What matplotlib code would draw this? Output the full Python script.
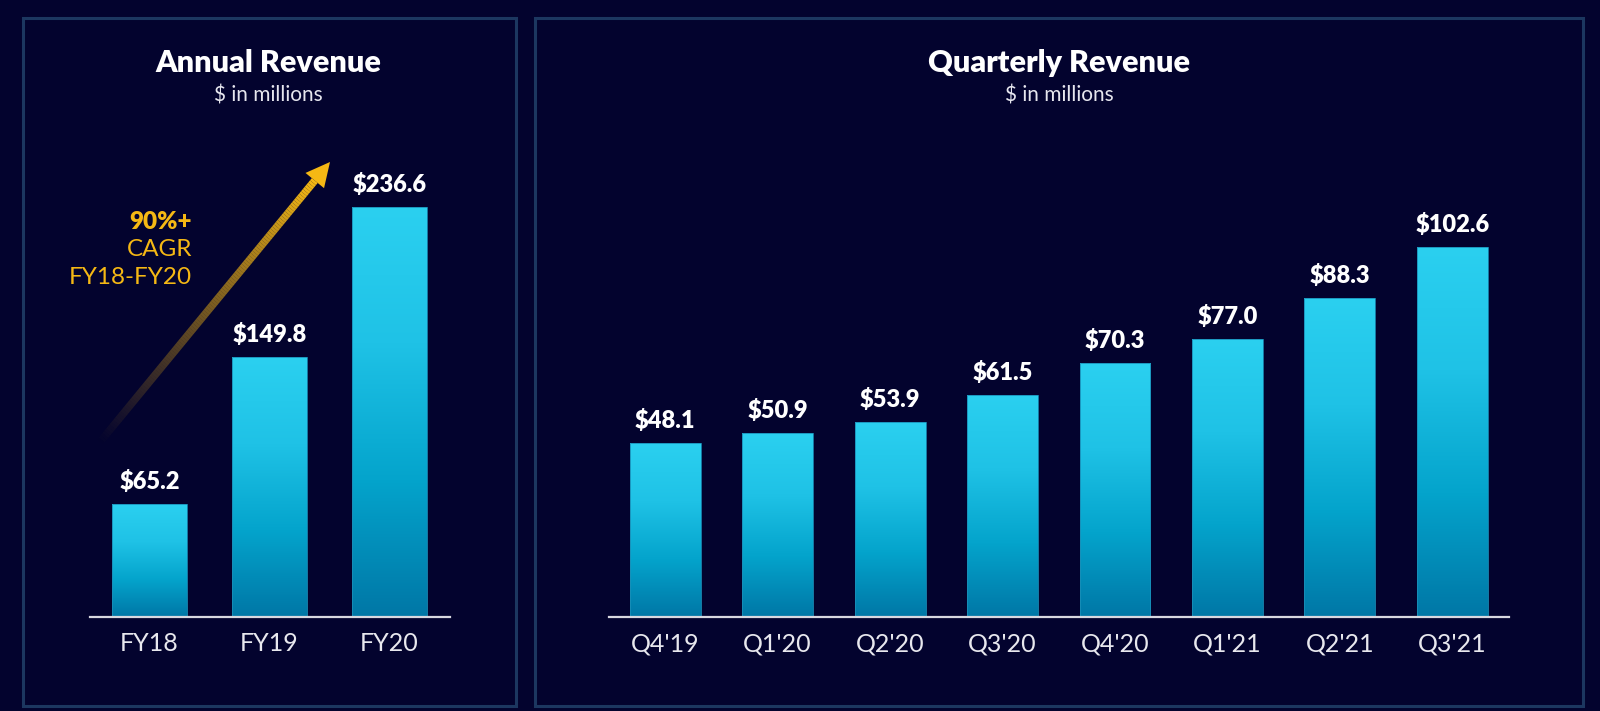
import numpy as np
import matplotlib.pyplot as plt
from matplotlib.colors import LinearSegmentedColormap, to_rgba
from matplotlib.patches import Rectangle, Polygon
from matplotlib.collections import LineCollection

annual_labels = ['FY18', 'FY19', 'FY20']
annual_values = [65.2, 149.8, 236.6]
quarter_labels = ["Q4'19", "Q1'20", "Q2'20", "Q3'20", "Q4'20", "Q1'21", "Q2'21", "Q3'21"]
quarter_values = [48.1, 50.9, 53.9, 61.5, 70.3, 77.0, 88.3, 102.6]
cagr_lines = ['90%+', 'CAGR', 'FY18-FY20']

BG = '#03032e'
BORDER = '#1c3760'
YELLOW = '#f5b814'
AXIS = '#d8d8e0'
bar_cmap = LinearSegmentedColormap.from_list('bar', ['#0077a6', '#04a4cc', '#1fc2e6', '#2bd0f0'])

plt.rcParams['font.family'] = ['Lato', 'DejaVu Sans']

W, H = 1600, 711
fig = plt.figure(figsize=(16, 7.11), dpi=100, facecolor=BG)

# overlay in pixel coords for panels, titles and the arrow
bg = fig.add_axes([0, 0, 1, 1], zorder=0)
bg.set_xlim(0, W)
bg.set_ylim(H, 0)
bg.axis('off')

for x0, x1 in [(23, 516), (535, 1583)]:
    bg.add_patch(Rectangle((x0, 18), x1 - x0, 706 - 18, fill=False, edgecolor=BORDER, linewidth=2.2))

for cx, title in [(268, 'Annual Revenue'), (1059, 'Quarterly Revenue')]:
    bg.text(cx, 63, title, ha='center', va='center', color='white', fontsize=22, fontweight='heavy')
    bg.text(cx, 95, '$ in millions', ha='center', va='center', color='#e6e6ee', fontsize=15)

# gradient arrow
tail = np.array([100.0, 442.0])
tip = np.array([330.0, 162.0])
u = (tip - tail) / np.linalg.norm(tip - tail)
n = np.array([-u[1], u[0]])
head_len, head_w = 24, 12
base = tip - head_len * u
t = np.linspace(0, 1, 120)
pts = tail + np.outer(t, base - tail)
segs = np.stack([pts[:-1], pts[1:]], axis=1)
cols = [to_rgba(YELLOW, a) for a in t[1:] ** 1.1]
bg.add_collection(LineCollection(segs, colors=cols, linewidths=5.5, capstyle='butt'))
bg.add_patch(Polygon([tip, base + head_w * n, base - head_w * n], closed=True, color=YELLOW, lw=0))

for i, (txt, y) in enumerate(zip(cagr_lines, [222, 249, 277])):
    bg.text(192, y, txt, ha='right', va='center', color=YELLOW, fontsize=17.5,
            fontweight='heavy' if i == 0 else 'normal')


def px_axes(x0, x1, y_base, height):
    return fig.add_axes([x0 / W, (H - y_base) / H, (x1 - x0) / W, height / H], zorder=1)


def gradient_bars(ax, labels, values, width):
    bars = ax.bar(range(len(values)), values, width=width, color='none',
                  edgecolor='#1a8fb8', linewidth=0.6, zorder=2)
    grad = np.linspace(0, 1, 256).reshape(-1, 1)
    for b in bars:
        x0 = b.get_x()
        im = ax.imshow(grad, extent=[x0, x0 + b.get_width(), 0, b.get_height()],
                       origin='lower', aspect='auto', cmap=bar_cmap, zorder=1)
        im.set_clip_path(b)
    for i, v in enumerate(values):
        ax.annotate(f'${v:.1f}', (i, v), xytext=(0, 8), textcoords='offset points',
                    ha='center', va='bottom', color='white', fontsize=17, fontweight='heavy')
    ax.set_xlim(-0.5, len(values) - 0.5)
    ax.set_facecolor('none')
    ax.set_xticks(range(len(values)), labels)
    ax.set_yticks([])
    ax.tick_params(axis='x', length=0, pad=11, labelsize=18, labelcolor='#e8e8ee')
    for s in ['left', 'right', 'top']:
        ax.spines[s].set_visible(False)
    ax.spines['bottom'].set_color(AXIS)
    ax.spines['bottom'].set_linewidth(1.6)


ax1 = px_axes(89.5, 449.5, 617, 450)
gradient_bars(ax1, annual_labels, annual_values, 0.625)
ax1.set_ylim(0, 450 / 1.733)

ax2 = px_axes(609, 1508.5, 617, 450)
gradient_bars(ax2, quarter_labels, quarter_values, 0.63)
ax2.set_ylim(0, 450 / 3.61)

fig.savefig('out.png', dpi=100, facecolor=BG)
